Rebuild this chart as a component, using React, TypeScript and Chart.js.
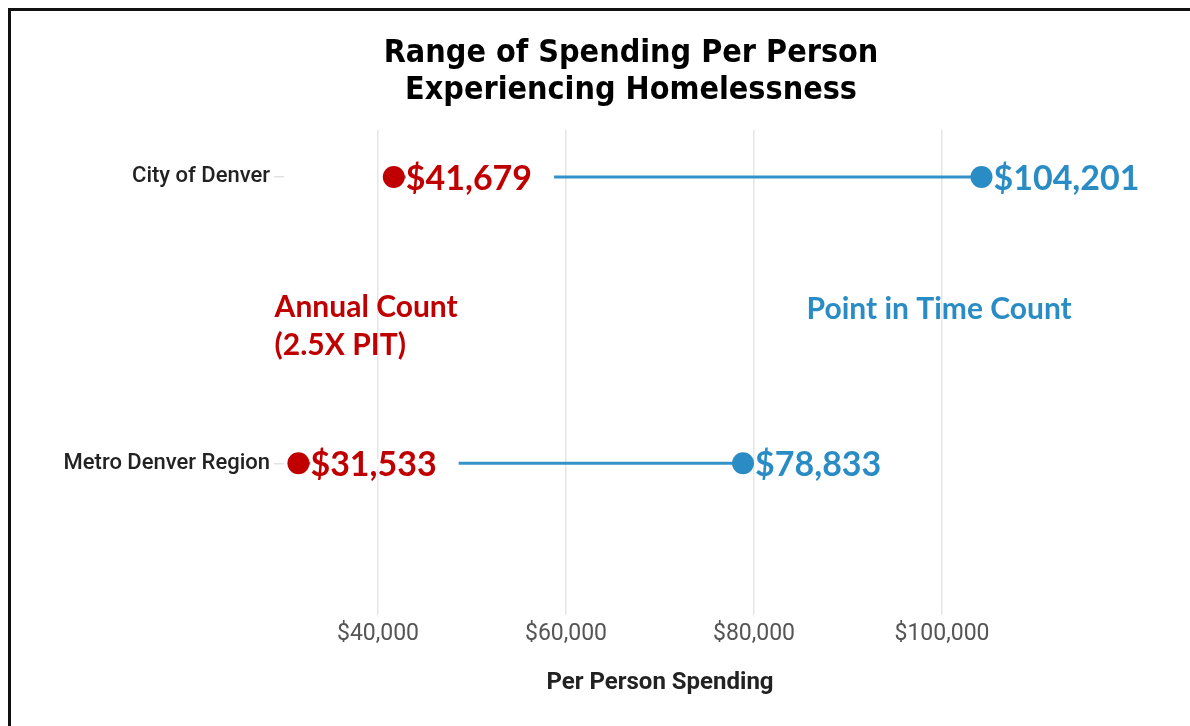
import React, { useEffect, useRef } from "react";
import { Chart, registerables } from "chart.js";

Chart.register(...registerables);

// ---- data ----
const categories = ["City of Denver", "Metro Denver Region"];
const annualCountValues = [41679, 31533];
const pointInTimeValues = [104201, 78833];
const xTickValues = [40000, 60000, 80000, 100000];
const titleLines = ["Range of Spending Per Person", "Experiencing Homelessness"];
const annualNoteLines = ["Annual Count", "(2.5X PIT)"];
const pitNoteText = "Point in Time Count";
const axisTitleText = "Per Person Spending";

const RED = "#C00000";
const BLUE = "#2A8CC4";
const LINE_BLUE = "#3393C9";

const fmt = (v: number) => "$" + Math.round(v).toLocaleString("en-US");
const rowY = (i: number) => categories.length - 1 - i;

const VALUE_SIZE = 34;
const NOTE_SIZE = 30;
const VALUE_FONT = `bold ${VALUE_SIZE}px Lato`;
const NOTE_FONT = `bold ${NOTE_SIZE}px Lato`;
const TITLE_FONT = "bold 32px 'DejaVu Sans Condensed'";

const annotationPlugin = {
  id: "dumbbellLabels",
  afterDatasetsDraw(chart: any) {
    const ctx = chart.ctx;
    const xs = chart.scales.x;
    const ys = chart.scales.y;
    ctx.save();
    ctx.font = VALUE_FONT;
    ctx.textAlign = "left";
    ctx.textBaseline = "alphabetic";
    const capShift = VALUE_SIZE * 0.37;
    categories.forEach((_, i) => {
      const y = ys.getPixelForValue(rowY(i));
      const rx = xs.getPixelForValue(annualCountValues[i]);
      const bx = xs.getPixelForValue(pointInTimeValues[i]);
      const redText = fmt(annualCountValues[i]);
      const w = ctx.measureText(redText).width;
      // white gap behind the red label, hiding the connector
      ctx.fillStyle = "#ffffff";
      ctx.fillRect(rx + 12, y - 4, w + 22, 8);
      ctx.fillStyle = RED;
      ctx.fillText(redText, rx + 12, y + capShift);
      ctx.fillStyle = BLUE;
      ctx.fillText(fmt(pointInTimeValues[i]), bx + 12, y + capShift);
    });
    // notes
    ctx.font = NOTE_FONT;
    ctx.fillStyle = RED;
    ctx.textAlign = "left";
    const noteX = xs.getPixelForValue(29000);
    const n1 = ys.getPixelForValue(0.55);
    annualNoteLines.forEach((t, k) => {
      ctx.fillText(t, noteX, n1 + NOTE_SIZE * 0.36 + k * 38);
    });
    ctx.fillStyle = BLUE;
    ctx.textAlign = "center";
    ctx.fillText(pitNoteText, xs.getPixelForValue(99700), ys.getPixelForValue(0.541) + NOTE_SIZE * 0.36);
    ctx.restore();
  },
  afterDraw(chart: any) {
    const ctx = chart.ctx;
    ctx.save();
    ctx.font = TITLE_FONT;
    ctx.fillStyle = "#000000";
    ctx.textAlign = "center";
    ctx.textBaseline = "alphabetic";
    titleLines.forEach((t, k) => {
      ctx.fillText(t, 620, 51 + k * 37);
    });
    ctx.restore();
  },
};

export default function App() {
  const canvasRef = useRef<HTMLCanvasElement | null>(null);

  useEffect(() => {
    const canvas = canvasRef.current;
    if (!canvas) return;
    const datasets = categories.map((c, i) => ({
      label: c,
      data: [
        { x: annualCountValues[i], y: rowY(i) },
        { x: pointInTimeValues[i], y: rowY(i) },
      ],
      showLine: true,
      borderColor: LINE_BLUE,
      borderWidth: 3,
      pointRadius: 11,
      pointHoverRadius: 11,
      pointBorderWidth: 0,
      pointBackgroundColor: [RED, BLUE],
      pointBorderColor: [RED, BLUE],
    }));

    const chart = new Chart(canvas, {
      type: "scatter",
      data: { datasets },
      plugins: [annotationPlugin],
      options: {
        animation: false,
        responsive: false,
        devicePixelRatio: 1,
        layout: { padding: { left: 0, right: 154, top: 119, bottom: 0 } },
        plugins: {
          legend: { display: false },
          title: { display: false },
          tooltip: { enabled: false },
        },
        scales: {
          x: {
            type: "linear",
            min: 30000,
            max: 110000,
            afterBuildTicks: (s: any) => {
              s.ticks = xTickValues.map((v) => ({ value: v }));
            },
            afterFit: (s: any) => {
              s.height = 111;
            },
            grid: { color: "#E6E6E6", lineWidth: 1.5, drawTicks: false },
            border: { display: false },
            ticks: {
              callback: (v: any) => fmt(Number(v)),
              color: "#555555",
              font: { family: "Roboto", size: 23, weight: "normal" },
              padding: 5,
              maxRotation: 0,
              autoSkip: false,
            },
            title: {
              display: true,
              text: axisTitleText,
              color: "#222222",
              font: { family: "Roboto", size: 24, weight: "bold" },
              padding: { top: 0, bottom: 29 },
            },
          },
          y: {
            type: "linear",
            min: -0.53,
            max: 1.164,
            afterBuildTicks: (s: any) => {
              s.ticks = categories.map((_, i) => ({ value: rowY(i) }));
            },
            afterFit: (s: any) => {
              s.width = 273;
            },
            grid: { drawOnChartArea: false, drawTicks: true, tickLength: 10, color: "#E2E2E2", lineWidth: 1.5 },
            border: { display: false },
            ticks: {
              callback: (v: any) => categories[categories.length - 1 - Math.round(Number(v))],
              color: "#222222",
              font: { family: "Roboto", size: 22, weight: "500" },
              padding: 4,
              autoSkip: false,
            },
          },
        },
      } as any,
    });
    return () => chart.destroy();
  }, []);

  return (
    <div style={{ position: "fixed", left: 8, top: 8, right: 0, bottom: 0, overflow: "hidden", background: "#fff" }}>
      <div style={{ position: "absolute", left: 0, top: 0, width: 1300, height: 900, border: "3px solid #111" }}>
        <canvas ref={canvasRef} width={1179} height={715} style={{ display: "block", width: 1179, height: 715 }} />
      </div>
    </div>
  );
}
